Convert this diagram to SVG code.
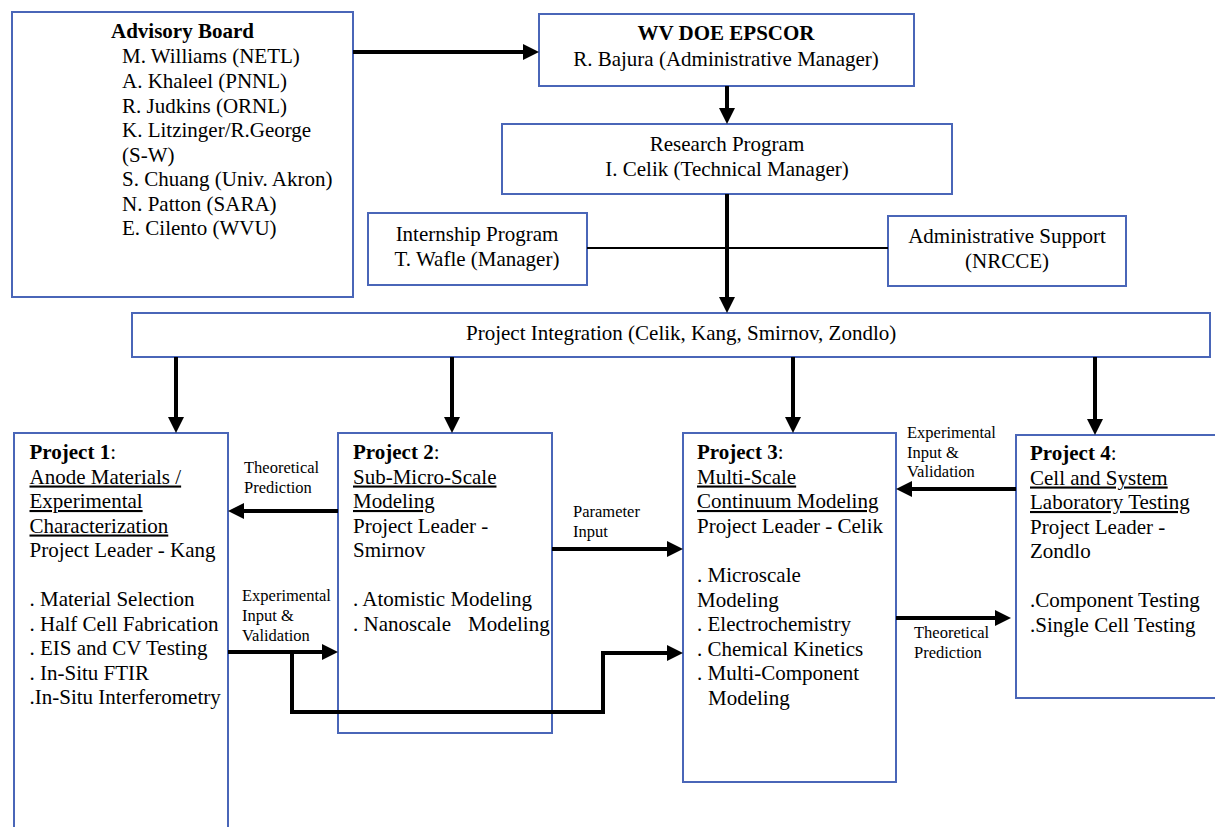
<svg xmlns="http://www.w3.org/2000/svg" width="1215" height="827" viewBox="0 0 1215 827">
<style>
.box{fill:#fff;stroke:#4a66b8;stroke-width:2}
.t{font-family:"Liberation Serif","Times New Roman",serif;font-size:21px;fill:#000}
.b{font-weight:bold}
.u{text-decoration:underline}
.c{text-anchor:middle}
.s{font-family:"Liberation Serif","Times New Roman",serif;font-size:16.5px;fill:#000}
.con{fill:none;stroke:#000;stroke-width:4}
.thin{fill:none;stroke:#000;stroke-width:2}
</style>
<defs>
<marker id="ah" markerUnits="userSpaceOnUse" markerWidth="16" markerHeight="16" refX="0" refY="8" orient="auto">
<path d="M0,0 L16,8 L0,16 Z" fill="#000"/>
</marker>
</defs>
<rect width="1215" height="827" fill="#fff"/>

<g id="advisory">
<rect class="box" x="12" y="12" width="341" height="285"/>
<text class="t b" x="111" y="38">Advisory Board</text>
<text class="t" x="122" y="63">M. Williams (NETL)</text>
<text class="t" x="122" y="88">A. Khaleel (PNNL)</text>
<text class="t" x="122" y="112.5">R. Judkins (ORNL)</text>
<text class="t" x="122" y="137">K. Litzinger/R.George</text>
<text class="t" x="122" y="161.5">(S-W)</text>
<text class="t" x="122" y="186">S. Chuang (Univ. Akron)</text>
<text class="t" x="122" y="210.5">N. Patton (SARA)</text>
<text class="t" x="122" y="235">E. Cilento (WVU)</text>
</g>

<g id="wvdoe">
<rect class="box" x="539" y="14" width="375" height="72"/>
<text class="t b c" x="726" y="40">WV DOE EPSCOR</text>
<text class="t c" x="726" y="66">R. Bajura (Administrative Manager)</text>
</g>

<g id="research">
<rect class="box" x="502" y="124" width="450" height="70"/>
<text class="t c" x="727" y="151">Research Program</text>
<text class="t c" x="727" y="176">I. Celik (Technical Manager)</text>
</g>

<g id="internship">
<rect class="box" x="368" y="213" width="219" height="72"/>
<text class="t c" x="477" y="241">Internship Program</text>
<text class="t c" x="477" y="266">T. Wafle (Manager)</text>
</g>

<g id="adminsupport">
<rect class="box" x="888" y="216" width="238" height="70"/>
<text class="t c" x="1007" y="243">Administrative Support</text>
<text class="t c" x="1007" y="268">(NRCCE)</text>
</g>

<g id="integration">
<rect class="box" x="132" y="313" width="1078" height="44"/>
<text class="t" x="466" y="340">Project Integration (Celik, Kang, Smirnov, Zondlo)</text>
</g>

<g id="project1">
<rect class="box" x="14" y="433" width="214" height="400"/>
<text class="t" x="29.5" y="459"><tspan class="b">Project 1</tspan>:</text>
<text class="t u" x="29.5" y="483.5">Anode Materials /</text>
<text class="t u" x="29.5" y="508">Experimental</text>
<text class="t u" x="29.5" y="532.5">Characterization</text>
<text class="t" x="29.5" y="557">Project Leader - Kang</text>
<text class="t" x="29.5" y="606">. Material Selection</text>
<text class="t" x="29.5" y="630.5">. Half Cell Fabrication</text>
<text class="t" x="29.5" y="655">. EIS and CV Testing</text>
<text class="t" x="29.5" y="679.5">. In-Situ FTIR</text>
<text class="t" x="29.5" y="704">.In-Situ Interferometry</text>
</g>

<g id="project2">
<rect class="box" x="338" y="433" width="214" height="300"/>
<text class="t" x="353" y="459"><tspan class="b">Project 2</tspan>:</text>
<text class="t u" x="353" y="483.5">Sub-Micro-Scale</text>
<text class="t u" x="353" y="508">Modeling</text>
<text class="t" x="353" y="532.5">Project Leader -</text>
<text class="t" x="353" y="557">Smirnov</text>
<text class="t" x="353" y="606">. Atomistic Modeling</text>
<text class="t" x="353" y="630.5">. Nanoscale<tspan x="468">Modeling</tspan></text>
</g>

<g id="project3">
<rect class="box" x="683" y="433" width="213" height="349"/>
<text class="t" x="697" y="459"><tspan class="b">Project 3</tspan>:</text>
<text class="t u" x="697" y="483.5">Multi-Scale</text>
<text class="t u" x="697" y="508">Continuum Modeling</text>
<text class="t" x="697" y="532.5">Project Leader - Celik</text>
<text class="t" x="697" y="582">. Microscale</text>
<text class="t" x="697" y="606.5">Modeling</text>
<text class="t" x="697" y="631">. Electrochemistry</text>
<text class="t" x="697" y="655.5">. Chemical Kinetics</text>
<text class="t" x="697" y="680">. Multi-Component</text>
<text class="t" x="708" y="704.5">Modeling</text>
</g>

<g id="project4">
<rect class="box" x="1016" y="435" width="210" height="263"/>
<text class="t" x="1030" y="460"><tspan class="b">Project 4</tspan>:</text>
<text class="t u" x="1030" y="484.5">Cell and System</text>
<text class="t u" x="1030" y="509">Laboratory Testing</text>
<text class="t" x="1030" y="533.5">Project Leader -</text>
<text class="t" x="1030" y="558">Zondlo</text>
<text class="t" x="1030" y="607">.Component Testing</text>
<text class="t" x="1030" y="631.5">.Single Cell Testing</text>
</g>

<g id="connectors">
<line class="con" x1="353" y1="52" x2="523" y2="52" marker-end="url(#ah)"/>
<line class="con" x1="727" y1="86" x2="727" y2="108" marker-end="url(#ah)"/>
<line class="thin" x1="587" y1="248" x2="888" y2="248"/>
<line class="con" x1="727" y1="194" x2="727" y2="297" marker-end="url(#ah)"/>
<line class="con" x1="176" y1="357" x2="176" y2="417" marker-end="url(#ah)"/>
<line class="con" x1="452" y1="357" x2="452" y2="417" marker-end="url(#ah)"/>
<line class="con" x1="793" y1="357" x2="793" y2="417" marker-end="url(#ah)"/>
<line class="con" x1="1095" y1="357" x2="1095" y2="419" marker-end="url(#ah)"/>
<line class="con" x1="338" y1="511" x2="244" y2="511" marker-end="url(#ah)"/>
<line class="con" x1="228" y1="652" x2="322" y2="652" marker-end="url(#ah)"/>
<path class="con" d="M292,652 V712 H603 V653 H667" marker-end="url(#ah)"/>
<line class="con" x1="552" y1="549" x2="667" y2="549" marker-end="url(#ah)"/>
<line class="con" x1="1016" y1="489" x2="912" y2="489" marker-end="url(#ah)"/>
<line class="con" x1="896" y1="618" x2="995" y2="618" marker-end="url(#ah)"/>
</g>

<g id="labels">
<text class="s" x="244" y="473">Theoretical</text>
<text class="s" x="244" y="493">Prediction</text>
<text class="s" x="242" y="601">Experimental</text>
<text class="s" x="242" y="621">Input &amp;</text>
<text class="s" x="242" y="641">Validation</text>
<text class="s" x="573" y="517">Parameter</text>
<text class="s" x="573" y="537">Input</text>
<text class="s" x="907" y="438">Experimental</text>
<text class="s" x="907" y="458">Input &amp;</text>
<text class="s" x="907" y="477">Validation</text>
<text class="s" x="914" y="638">Theoretical</text>
<text class="s" x="914" y="658">Prediction</text>
</g>
</svg>
